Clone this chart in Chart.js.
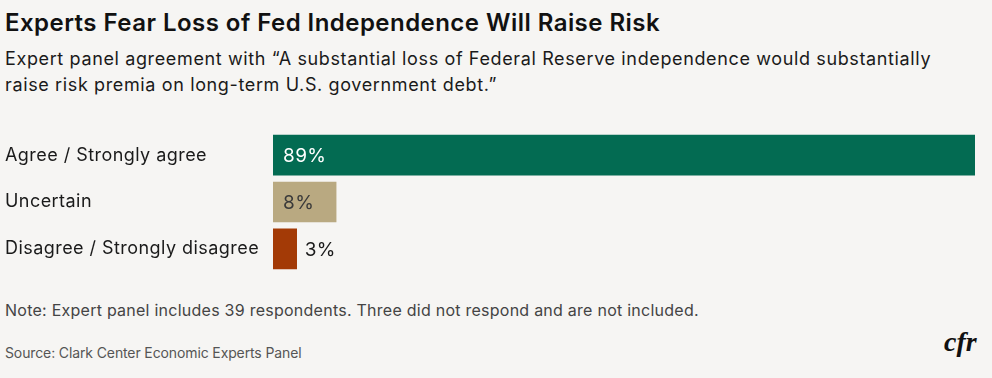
<!DOCTYPE html>
<html>
<head>
<meta charset="utf-8">
<script src="https://cdn.jsdelivr.net/npm/chart.js@4"></script>
<style>
  body { margin: 0; background: #f6f5f3; font-family: Inter, "Noto Sans", sans-serif; color: #1a1a1a; }
  #wrap { position: relative; width: 992px; height: 378px; overflow: hidden; }
  .title { position: absolute; left: 5px; top: 8px; font-size: 24px; font-weight: 600; letter-spacing: 0.46px; color: #111; }
  .sub { position: absolute; left: 5px; top: 46px; font-size: 18px; line-height: 26px; letter-spacing: 0.63px; width: 980px; }
  .note { position: absolute; left: 5px; top: 300px; font-size: 16px; letter-spacing: 0.25px; color: #444; }
  .source { position: absolute; left: 5px; top: 344px; font-size: 14px; letter-spacing: -0.12px; color: #555; }
  .logo { position: absolute; left: 944px; top: 326px; font-family: "Liberation Serif", "DejaVu Serif", serif; font-style: italic; font-weight: bold; font-size: 28px; color: #111; }
  canvas { position: absolute; left: 0; top: 118px; }
</style>
</head>
<body>
<div id="wrap">
  <div class="title">Experts Fear Loss of Fed Independence Will Raise Risk</div>
  <div class="sub">Expert panel agreement with “A substantial loss of Federal Reserve independence would substantially<br>raise risk premia on long-term U.S. government debt.”</div>
  <canvas id="chart" width="980" height="168"></canvas>
  <div class="note">Note: Expert panel includes 39 respondents. Three did not respond and are not included.</div>
  <div class="source">Source: Clark Center Economic Experts Panel</div>
  <div class="logo">cfr</div>
</div>
<script>
// Data
const categories = ['Agree / Strongly agree', 'Uncertain', 'Disagree / Strongly disagree'];
const shares = [89, 8, 3];
const barColors = ['#036b52', '#b9a981', '#a33a06'];
const labelColors = ['#ffffff', '#3a3a3a', '#1a1a1a'];

// Slightly wider text spacing to match the reference typeface
const spacing = {
  id: 'spacing',
  beforeDraw(chart) { chart.ctx.letterSpacing = '0.45px'; }
};

// Draws the percentage labels, inside the bar when there is room
const valueLabels = {
  id: 'valueLabels',
  afterDatasetsDraw(chart) {
    const ctx = chart.ctx;
    const meta = chart.getDatasetMeta(0);
    ctx.save();
    ctx.font = '19px Inter, "Noto Sans", sans-serif';
    ctx.letterSpacing = '0.4px';
    ctx.textBaseline = 'middle';
    meta.data.forEach((bar, i) => {
      const text = shares[i] + '%';
      const w = ctx.measureText(text).width;
      const left = bar.base;
      let x = left + 10;
      if (bar.x - left < w + 14) x = bar.x + 8;
      ctx.fillStyle = labelColors[i];
      ctx.fillText(text, x, bar.y + 1);
    });
    ctx.restore();
  }
};

new Chart(document.getElementById('chart'), {
  type: 'bar',
  data: {
    labels: categories,
    datasets: [{
      data: shares,
      backgroundColor: barColors,
      barThickness: 40,
      borderWidth: 0
    }]
  },
  options: {
    indexAxis: 'y',
    responsive: false,
    animation: false,
    layout: { padding: { left: 5, right: 5, top: 0, bottom: 0 } },
    plugins: { legend: { display: false }, tooltip: { enabled: false } },
    scales: {
      x: { min: 0, max: 89, display: false },
      y: {
        grid: { display: false },
        border: { display: false },
        ticks: {
          crossAlign: 'far',
          color: '#1a1a1a',
          font: { family: 'Inter, "Noto Sans", sans-serif', size: 18 }
        },
        afterFit(scale) { scale.width = 268; }
      }
    }
  },
  plugins: [spacing, valueLabels]
});
</script>
</body>
</html>
